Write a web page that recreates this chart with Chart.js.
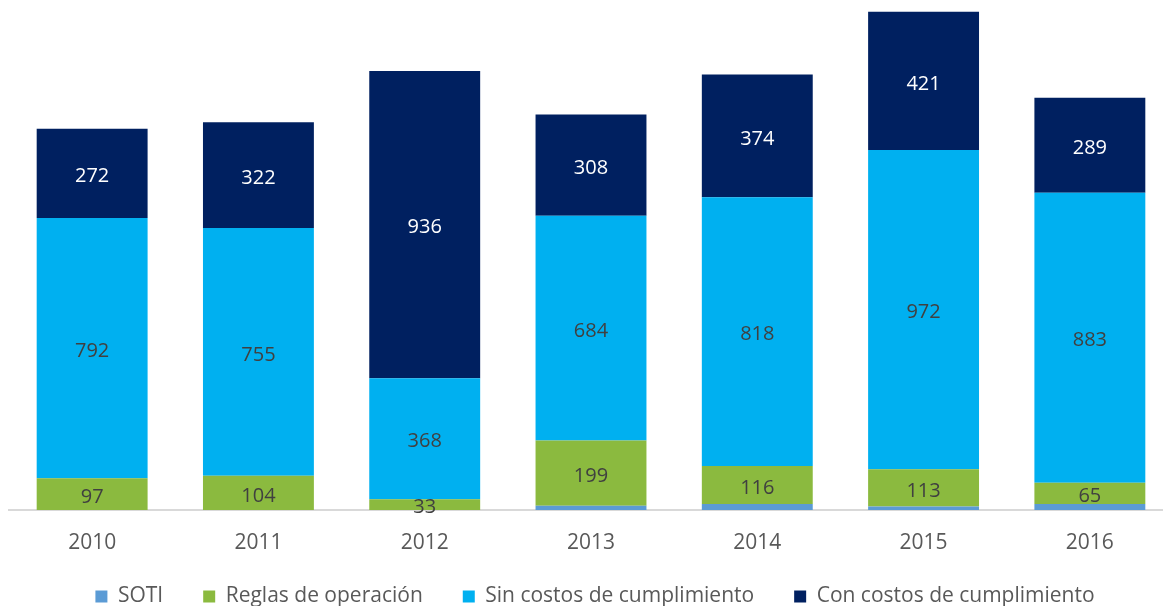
<!DOCTYPE html>
<html>
<head>
<meta charset="utf-8">
<script src="https://cdn.jsdelivr.net/npm/chart.js@4.4.1/dist/chart.umd.min.js"></script>
<style>
  html, body { margin: 0; padding: 0; overflow: hidden; background: #fff; }
  #wrap { position: relative; width: 1190px; height: 641px; }
</style>
</head>
<body>
<div id="wrap"><canvas id="chart"></canvas></div>
<script>
// Values
const years = ['2010', '2011', '2012', '2013', '2014', '2015', '2016'];
const soti = [0, 0, 0, 13, 18, 11, 18];
const reglas = [97, 104, 33, 199, 116, 113, 65];
const sinCostos = [792, 755, 368, 684, 818, 972, 883];
const conCostos = [272, 322, 936, 308, 374, 421, 289];

const FONT = '"Open Sans", sans-serif';

// Draw the value in the middle of each segment (SOTI has no labels)
const segmentLabels = {
    id: 'segmentLabels',
    afterDatasetsDraw(chart) {
        const ctx = chart.ctx;
        ctx.save();
        ctx.font = '20px ' + FONT;
        ctx.textAlign = 'center';
        ctx.textBaseline = 'middle';
        chart.data.datasets.forEach((ds, i) => {
            if (!ds.showLabels) return;
            const meta = chart.getDatasetMeta(i);
            meta.data.forEach((bar, j) => {
                const v = ds.data[j];
                if (!v) return;
                const mid = (bar.y + bar.base) / 2;
                ctx.fillStyle = ds.labelColor;
                ctx.fillText(String(v), bar.x, mid + 3);
            });
        });
        ctx.restore();
    }
};

// The wide gaps between legend items come with a tall legend box,
// so pull the legend up closer to the year labels
const liftLegend = {
    id: 'liftLegend',
    afterLayout(chart) {
        const lg = chart.legend;
        if (!lg) return;
        lg.top -= 24;
        lg.bottom -= 24;
    }
};

new Chart(document.getElementById('chart').getContext('2d'), {
    type: 'bar',
    data: {
        labels: years,
        datasets: [
            { label: 'SOTI', data: soti, backgroundColor: '#5B9BD5', showLabels: false },
            { label: 'Reglas de operación', data: reglas, backgroundColor: '#8BBA3F', showLabels: true, labelColor: '#404040' },
            { label: 'Sin costos de cumplimiento', data: sinCostos, backgroundColor: '#00B0F0', showLabels: true, labelColor: '#404040' },
            { label: 'Con costos de cumplimiento', data: conCostos, backgroundColor: '#002060', showLabels: true, labelColor: '#FFFFFF' }
        ]
    },
    options: {
        responsive: true,
        maintainAspectRatio: false,
        animation: false,
        layout: { padding: 0 },
        datasets: {
            bar: { categoryPercentage: 1, barPercentage: 0.667, borderWidth: 0 }
        },
        plugins: {
            tooltip: { enabled: false },
            legend: {
                position: 'bottom',
                labels: {
                    boxWidth: 12,
                    boxHeight: 12,
                    padding: 40,
                    color: '#595959',
                    font: { family: FONT, size: 21 }
                }
            }
        },
        scales: {
            x: {
                stacked: true,
                grid: { display: false },
                border: { display: true, color: '#D9D9D9', width: 2 },
                ticks: { color: '#595959', font: { family: FONT, size: 21 }, padding: 12 },
                afterFit: s => { s.height = 60; }
            },
            y: {
                stacked: true,
                min: 0,
                max: 1553,
                grid: { display: false },
                border: { display: false },
                ticks: { display: false },
                afterFit: s => { s.width = 9; }
            },
            y2: {
                position: 'right',
                grid: { display: false },
                border: { display: false },
                ticks: { display: false },
                afterFit: s => { s.width = 17; }
            }
        }
    },
    plugins: [segmentLabels, liftLegend]
});
</script>
</body>
</html>
